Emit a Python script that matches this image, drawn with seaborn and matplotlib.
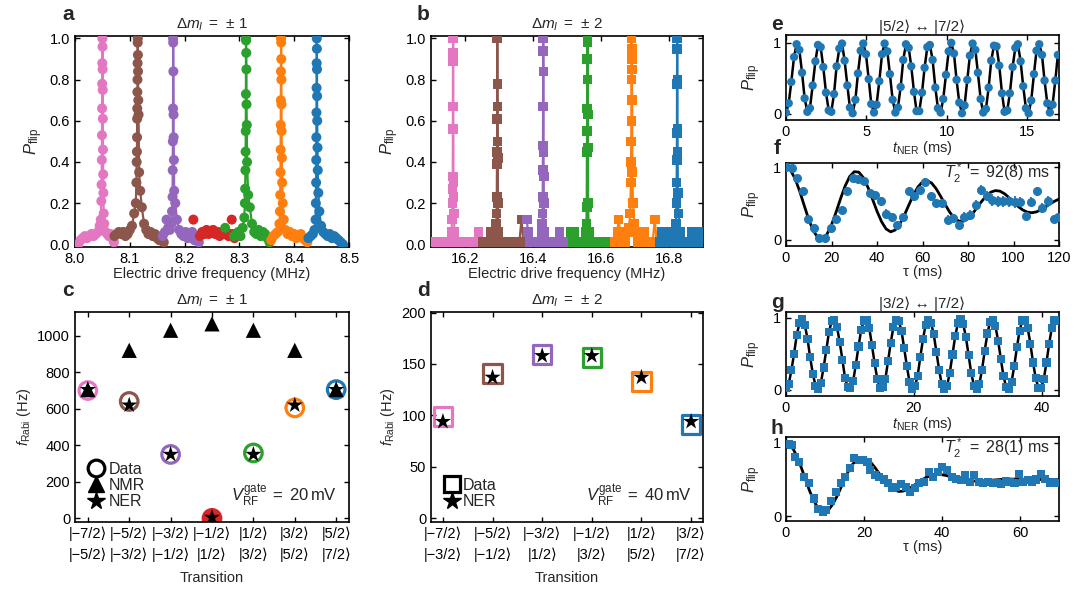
import numpy as np
import pandas as pd
import seaborn as sns
import matplotlib.pyplot as plt
from matplotlib.lines import Line2D

sns.set_style("ticks")
plt.rcParams['font.family'] = ['Liberation Sans', 'DejaVu Sans']
plt.rcParams['mathtext.fontset'] = 'custom'
plt.rcParams['mathtext.rm'] = 'Liberation Sans'
plt.rcParams['mathtext.it'] = 'Liberation Sans:italic'
plt.rcParams['mathtext.bf'] = 'Liberation Sans:bold'
plt.rcParams.update({
    'xtick.direction': 'in', 'ytick.direction': 'in',
    'xtick.top': True, 'ytick.right': True,
    'xtick.major.size': 3.5, 'ytick.major.size': 3.5,
    'xtick.major.width': 1.0, 'ytick.major.width': 1.0,
    'xtick.color': 'k', 'ytick.color': 'k',
    'axes.edgecolor': 'k', 'axes.linewidth': 1.2,
    'font.size': 10.5, 'xtick.labelsize': 10.5, 'ytick.labelsize': 10.5,
    'axes.labelsize': 10.5, 'axes.titlesize': 11,
})

PINK, BROWN, PURPLE, RED = '#e377c2', '#8c564b', '#9467bd', '#d62728'
GREEN, ORANGE, BLUE = '#2ca02c', '#ff7f0e', '#1f77b4'

# ---------------- panel a : Delta m = +-1 spectra ----------------
a_pink_f = [8.006, 8.010, 8.014, 8.018, 8.022, 8.026, 8.030, 8.034, 8.038, 8.042,
            8.045, 8.047, 8.048, 8.0485, 8.049, 8.0492, 8.0494, 8.0496, 8.0498, 8.0500,
            8.0502, 8.0504, 8.0506, 8.0508, 8.0510, 8.0514, 8.0518, 8.0524, 8.0535, 8.056,
            8.059, 8.062, 8.065, 8.068, 8.071]
a_pink_p = [0.00, 0.02, 0.03, 0.04, 0.03, 0.04, 0.05, 0.04, 0.05, 0.06,
            0.09, 0.12, 0.21, 0.29, 0.41, 0.53, 0.66, 0.78, 0.88, 1.00,
            0.96, 0.85, 0.75, 0.61, 0.46, 0.34, 0.25, 0.15, 0.10, 0.06,
            0.05, 0.04, 0.05, 0.03, 0.01]
a_brown_f = [8.072, 8.076, 8.080, 8.084, 8.088, 8.092, 8.096, 8.100, 8.104, 8.108,
             8.111, 8.112, 8.1125, 8.113, 8.1132, 8.1134, 8.1136, 8.1138, 8.114, 8.1142,
             8.1144, 8.1146, 8.1148, 8.115, 8.1155, 8.116, 8.117, 8.119, 8.122, 8.126,
             8.130, 8.134, 8.138, 8.142, 8.146, 8.150, 8.154, 8.158, 8.162]
a_brown_p = [0.04, 0.05, 0.06, 0.05, 0.06, 0.04, 0.05, 0.07, 0.09, 0.15,
             0.20, 0.30, 0.40, 0.45, 0.52, 0.61, 0.66, 0.74, 0.80, 0.88,
             0.98, 1.00, 0.92, 0.84, 0.70, 0.63, 0.35, 0.26, 0.18, 0.10,
             0.07, 0.05, 0.06, 0.04, 0.05, 0.03, 0.02, 0.04, 0.01]
a_purple_f = [8.160, 8.164, 8.167, 8.170, 8.173, 8.176, 8.177, 8.178, 8.1783, 8.1786,
              8.1789, 8.179, 8.1792, 8.1795, 8.1798, 8.180, 8.1805, 8.181, 8.183, 8.186,
              8.190, 8.194, 8.198, 8.202, 8.206, 8.210, 8.214, 8.218, 8.222, 8.226]
a_purple_p = [0.04, 0.06, 0.12, 0.08, 0.07, 0.10, 0.16, 0.23, 0.36, 0.50,
              0.66, 1.00, 0.98, 0.84, 0.63, 0.52, 0.41, 0.26, 0.20, 0.12,
              0.07, 0.05, 0.04, 0.06, 0.03, 0.05, 0.06, 0.02, 0.04, 0.01]
a_red_f = [8.216, 8.228, 8.232, 8.236, 8.240, 8.244, 8.248, 8.252, 8.256, 8.260,
           8.264, 8.268, 8.272, 8.276, 8.280, 8.284, 8.286, 8.288, 8.291]
a_red_p = [0.12, 0.04, 0.06, 0.05, 0.07, 0.05, 0.06, 0.07, 0.05, 0.06,
           0.04, 0.06, 0.05, 0.06, 0.04, 0.05, 0.12, 0.05, 0.03]
a_red_fit_f = [8.228, 8.291]
a_red_fit_p = [0.055, 0.055]
a_green_f = [8.274, 8.290, 8.294, 8.298, 8.302, 8.306, 8.309, 8.310, 8.3105, 8.311,
             8.3113, 8.3116, 8.3119, 8.312, 8.3122, 8.3125, 8.3128, 8.313, 8.3135, 8.314,
             8.316, 8.319, 8.323, 8.327, 8.331, 8.335, 8.339, 8.343, 8.347, 8.351,
             8.355]
a_green_p = [0.08, 0.04, 0.05, 0.06, 0.04, 0.08, 0.13, 0.20, 0.27, 0.36,
             0.45, 0.55, 0.73, 1.00, 0.99, 0.93, 0.85, 0.68, 0.58, 0.40,
             0.24, 0.18, 0.10, 0.06, 0.05, 0.07, 0.04, 0.06, 0.05, 0.03,
             0.01]
a_orange_f = [8.358, 8.362, 8.366, 8.370, 8.373, 8.374, 8.3745, 8.375, 8.3752, 8.3754,
              8.3756, 8.3758, 8.376, 8.3762, 8.3764, 8.3766, 8.3768, 8.377, 8.3775, 8.378,
              8.379, 8.381, 8.384, 8.388, 8.392, 8.396, 8.400, 8.404, 8.408, 8.412,
              8.416, 8.420, 8.424]
a_orange_p = [0.02, 0.04, 0.05, 0.06, 0.10, 0.16, 0.24, 0.35, 0.46, 0.58,
              0.70, 0.84, 1.00, 0.98, 0.90, 0.80, 0.68, 0.55, 0.42, 0.30,
              0.20, 0.12, 0.07, 0.05, 0.06, 0.04, 0.05, 0.03, 0.04, 0.05,
              0.03, 0.02, 0.01]
a_blue_f = [8.426, 8.430, 8.434, 8.437, 8.439, 8.4395, 8.440, 8.4402, 8.4404, 8.4406,
            8.4408, 8.441, 8.4412, 8.4414, 8.4416, 8.4418, 8.442, 8.4425, 8.443, 8.444,
            8.446, 8.449, 8.453, 8.457, 8.461, 8.465, 8.469, 8.473, 8.477, 8.481,
            8.485, 8.489]
a_blue_p = [0.03, 0.04, 0.05, 0.07, 0.12, 0.20, 0.30, 0.41, 0.52, 0.64,
            0.76, 0.88, 1.00, 0.95, 0.85, 0.72, 0.60, 0.47, 0.36, 0.25,
            0.16, 0.09, 0.06, 0.05, 0.04, 0.05, 0.03, 0.04, 0.03, 0.02,
            0.01, 0.00]

# ---------------- panel b : Delta m = +-2 spectra ----------------
b_pink_f = [16.104, 16.112, 16.120, 16.128, 16.136, 16.144, 16.150, 16.156, 16.160, 16.162,
            16.163, 16.1635, 16.164, 16.1643, 16.1646, 16.165, 16.1653, 16.1656, 16.166, 16.1665,
            16.167, 16.169, 16.172, 16.178, 16.186, 16.194, 16.202, 16.210, 16.218, 16.226,
            16.234, 16.240, 16.247]
b_pink_p = [0.01, 0.01, 0.01, 0.01, 0.01, 0.01, 0.01, 0.01, 0.06, 0.12,
            0.20, 0.27, 0.33, 0.56, 0.89, 1.00, 0.93, 0.67, 0.30, 0.23,
            0.15, 0.06, 0.01, 0.01, 0.01, 0.01, 0.01, 0.01, 0.01, 0.01,
            0.01, 0.06, 0.01]
b_brown_f = [16.252, 16.260, 16.268, 16.275, 16.282, 16.288, 16.292, 16.293, 16.2935, 16.294,
             16.2943, 16.2946, 16.295, 16.2953, 16.2956, 16.296, 16.2965, 16.297, 16.299, 16.304,
             16.312, 16.320, 16.328, 16.336, 16.344, 16.352, 16.360, 16.366, 16.372, 16.378]
b_brown_p = [0.01, 0.01, 0.01, 0.06, 0.01, 0.06, 0.10, 0.15, 0.23, 0.39,
             0.45, 0.61, 1.00, 0.78, 0.67, 0.50, 0.42, 0.20, 0.06, 0.01,
             0.01, 0.01, 0.01, 0.01, 0.01, 0.01, 0.01, 0.12, 0.01, 0.01]
b_purple_f = [16.382, 16.385, 16.390, 16.398, 16.406, 16.414, 16.420, 16.425, 16.427, 16.428,
              16.4285, 16.429, 16.4293, 16.4296, 16.430, 16.4303, 16.4306, 16.431, 16.4315, 16.432,
              16.434, 16.440, 16.448, 16.456, 16.464, 16.472, 16.478, 16.486, 16.494, 16.502,
              16.509]
b_purple_p = [0.12, 0.06, 0.01, 0.01, 0.01, 0.01, 0.01, 0.06, 0.10, 0.15,
              0.23, 0.36, 0.48, 0.67, 1.00, 0.94, 0.84, 0.45, 0.33, 0.20,
              0.06, 0.01, 0.01, 0.01, 0.01, 0.01, 0.06, 0.01, 0.01, 0.01,
              0.01]
b_green_f = [16.512, 16.516, 16.520, 16.528, 16.536, 16.544, 16.550, 16.555, 16.557, 16.558,
             16.5585, 16.559, 16.5593, 16.5596, 16.560, 16.5603, 16.5606, 16.561, 16.5615, 16.562,
             16.564, 16.570, 16.578, 16.586, 16.594, 16.602, 16.610, 16.618, 16.626, 16.634,
             16.640]
b_green_p = [0.06, 0.01, 0.06, 0.01, 0.01, 0.01, 0.01, 0.06, 0.10, 0.18,
             0.45, 0.55, 0.66, 0.90, 1.00, 0.98, 0.80, 0.63, 0.47, 0.20,
             0.06, 0.01, 0.01, 0.01, 0.01, 0.01, 0.01, 0.01, 0.01, 0.01,
             0.01]
b_orange_f = [16.642, 16.648, 16.652, 16.658, 16.664, 16.670, 16.676, 16.682, 16.686, 16.688,
              16.6885, 16.689, 16.6893, 16.6896, 16.690, 16.6903, 16.6906, 16.691, 16.6915, 16.692,
              16.694, 16.698, 16.702, 16.708, 16.714, 16.720, 16.728, 16.736, 16.744, 16.752,
              16.758, 16.764, 16.770]
b_orange_p = [0.01, 0.06, 0.12, 0.04, 0.06, 0.01, 0.06, 0.08, 0.15, 0.30,
              0.40, 0.50, 0.60, 0.80, 1.00, 0.95, 0.90, 0.85, 0.70, 0.35,
              0.20, 0.10, 0.06, 0.01, 0.06, 0.01, 0.06, 0.01, 0.01, 0.01,
              0.12, 0.01, 0.01]
b_blue_f = [16.774, 16.780, 16.786, 16.792, 16.798, 16.804, 16.810, 16.816, 16.820, 16.822,
            16.8225, 16.823, 16.8233, 16.8236, 16.824, 16.8243, 16.8246, 16.825, 16.8255, 16.826,
            16.828, 16.832, 16.838, 16.846, 16.854, 16.862, 16.868, 16.874, 16.880, 16.886,
            16.893]
b_blue_p = [0.01, 0.06, 0.04, 0.01, 0.04, 0.06, 0.01, 0.06, 0.10, 0.20,
            0.30, 0.41, 0.54, 0.78, 1.00, 0.95, 0.80, 0.56, 0.45, 0.25,
            0.15, 0.06, 0.01, 0.01, 0.01, 0.01, 0.06, 0.01, 0.04, 0.06,
            0.01]

# ---------------- panels c, d : Rabi frequencies ----------------
c_labels = ['|−7/2⟩\n|−5/2⟩', '|−5/2⟩\n|−3/2⟩', '|−3/2⟩\n|−1/2⟩', '|−1/2⟩\n|1/2⟩',
            '|1/2⟩\n|3/2⟩', '|3/2⟩\n|5/2⟩', '|5/2⟩\n|7/2⟩']
c_data = [700, 640, 350, 0, 358, 605, 705]
c_nmr = [705, 920, 1030, 1065, 1030, 920, 705]
c_ner = [705, 620, 350, 5, 350, 620, 705]
c_colors = [PINK, BROWN, PURPLE, RED, GREEN, ORANGE, BLUE]

d_labels = ['|−7/2⟩\n|−3/2⟩', '|−5/2⟩\n|−1/2⟩', '|−3/2⟩\n|1/2⟩', '|−1/2⟩\n|3/2⟩',
            '|1/2⟩\n|5/2⟩', '|3/2⟩\n|7/2⟩']
d_data = [99, 141, 159, 156, 133, 91]
d_ner = [94, 137, 158, 158, 137, 94]
d_colors = [PINK, BROWN, PURPLE, GREEN, ORANGE, BLUE]

# ---------------- panel e : Rabi |5/2> <-> |7/2> ----------------
e_t = [0.00, 0.17, 0.33, 0.50, 0.66, 0.83, 1.00, 1.16, 1.33, 1.49, 1.66, 1.83, 1.99, 2.16, 2.32,
       2.49, 2.66, 2.82, 2.99, 3.15, 3.32, 3.49, 3.65, 3.82, 3.98, 4.15, 4.32, 4.48, 4.65, 4.81,
       4.98, 5.15, 5.31, 5.48, 5.64, 5.81, 5.98, 6.14, 6.31, 6.47, 6.64, 6.81, 6.97, 7.14, 7.30,
       7.47, 7.64, 7.80, 7.97, 8.13, 8.30, 8.47, 8.63, 8.80, 8.96, 9.13, 9.30, 9.46, 9.63, 9.79,
       9.96, 10.13, 10.29, 10.46, 10.62, 10.79, 10.96, 11.12, 11.29, 11.45, 11.62, 11.79, 11.95,
       12.12, 12.28, 12.45, 12.62, 12.78, 12.95, 13.11, 13.28, 13.45, 13.61, 13.78, 13.94, 14.11,
       14.28, 14.44, 14.61, 14.77, 14.94, 15.11, 15.27, 15.44, 15.60, 15.77, 15.94, 16.10, 16.27,
       16.43, 16.60, 16.77, 16.93]
e_p = [0.02, 0.15, 0.45, 0.80, 0.98, 0.90, 0.58, 0.22, 0.03, 0.08, 0.40, 0.74, 0.97, 0.94, 0.66,
       0.30, 0.05, 0.03, 0.28, 0.67, 0.92, 0.99, 0.75, 0.40, 0.09, 0.01, 0.20, 0.57, 0.89, 0.99,
       0.84, 0.49, 0.14,
       0.02, 0.13, 0.46, 0.84, 0.99, 0.88, 0.56, 0.20, 0.02, 0.09, 0.38, 0.76, 0.98, 0.93, 0.67,
       0.31, 0.04, 0.04, 0.30, 0.65, 0.94, 0.97, 0.76, 0.37, 0.08, 0.02, 0.21, 0.55, 0.88, 1.00,
       0.85, 0.48, 0.16,
       0.01, 0.12, 0.48, 0.82, 0.99, 0.90, 0.58, 0.21, 0.02, 0.07, 0.37, 0.75, 0.96, 0.95, 0.68,
       0.29, 0.03, 0.05, 0.29, 0.66, 0.93, 0.98, 0.74, 0.39, 0.08, 0.01, 0.19, 0.56, 0.89, 0.98,
       0.83, 0.47, 0.15,
       0.02, 0.13, 0.47, 0.83]

# ---------------- panel f : Ramsey |5/2> <-> |7/2> ----------------
f_t = [0.0, 2.45, 4.9, 7.35, 9.8, 12.25, 14.7, 17.15, 19.6, 22.05,
       24.5, 26.95, 29.4, 31.85, 34.3, 36.75, 39.2, 41.65, 44.1, 46.55,
       49.0, 51.45, 53.9, 56.35, 58.8, 61.25, 63.7, 66.15, 68.6, 71.05,
       73.5, 75.95, 78.4, 80.85, 83.3, 85.75, 88.2, 90.65, 93.1, 95.55,
       98.0, 100.45, 102.9, 105.35, 107.8, 110.25, 112.7, 115.15, 117.6, 119.6]
f_p = [1.00, 0.99, 0.85, 0.67, 0.29, 0.17, 0.03, 0.03, 0.17, 0.29,
       0.41, 0.67, 0.85, 0.84, 0.81, 0.64, 0.62, 0.53, 0.36, 0.32,
       0.21, 0.31, 0.67, 0.60, 0.69, 0.80, 0.60, 0.51, 0.51, 0.28,
       0.30, 0.21, 0.32, 0.34, 0.48, 0.69, 0.60, 0.55, 0.53, 0.53,
       0.53, 0.52, 0.52, 0.33, 0.52, 0.67, 0.44, 0.53, 0.29, 0.31]
f_err = [0.02, 0.02, 0.03, 0.04, 0.04, 0.03, 0.03, 0.03, 0.04, 0.04,
         0.04, 0.05, 0.04, 0.04, 0.05, 0.05, 0.06, 0.06, 0.06, 0.05,
         0.04, 0.05, 0.06, 0.06, 0.06, 0.05, 0.06, 0.06, 0.06, 0.06,
         0.06, 0.05, 0.06, 0.07, 0.07, 0.07, 0.07, 0.08, 0.08, 0.08,
         0.08, 0.08, 0.07, 0.06, 0.07, 0.06, 0.07, 0.07, 0.06, 0.06]
f_fit_t = [0, 2, 4, 6, 8, 10, 12, 14, 16, 18, 20, 22, 24, 26, 28, 30, 32, 34, 36, 38,
           40, 42, 44, 46, 48, 50, 52, 54, 56, 58, 60, 62, 64, 66, 68, 70, 72, 74, 76, 78,
           80, 82, 84, 86, 88, 90, 92, 94, 96, 98, 100, 102, 104, 106, 108, 110, 112, 114,
           116, 118, 120]
f_fit = [1.000, 0.960, 0.844, 0.673, 0.475, 0.283, 0.127, 0.034, 0.017, 0.079,
         0.208, 0.382, 0.571, 0.744, 0.874, 0.940, 0.934, 0.858, 0.727, 0.564,
         0.396, 0.252, 0.152, 0.112, 0.137, 0.218, 0.340, 0.482, 0.620, 0.731,
         0.800, 0.818, 0.784, 0.706, 0.600, 0.486, 0.381, 0.301, 0.259, 0.258,
         0.295, 0.362, 0.446, 0.531, 0.606, 0.658, 0.680, 0.673, 0.638, 0.585,
         0.523, 0.463, 0.415, 0.384, 0.375, 0.386, 0.414, 0.453, 0.495, 0.533,
         0.563]

# ---------------- panel g : Rabi |3/2> <-> |7/2> ----------------
g_t = [0.00, 0.42, 0.84, 1.26, 1.68, 2.10, 2.52, 2.94, 3.36, 3.78, 4.20, 4.62, 5.04, 5.46,
       5.88, 6.30, 6.72, 7.14, 7.56, 7.98, 8.40, 8.82, 9.24, 9.66, 10.08, 10.50, 10.92, 11.34,
       11.76, 12.18, 12.60, 13.02, 13.44, 13.86, 14.28, 14.70, 15.12, 15.54, 15.96, 16.38,
       16.80, 17.22, 17.64, 18.06, 18.48, 18.90, 19.32, 19.74, 20.16, 20.58, 21.00, 21.42,
       21.84, 22.26, 22.68, 23.10, 23.52, 23.94, 24.36, 24.78, 25.20, 25.62, 26.04, 26.46,
       26.88, 27.30, 27.72, 28.14, 28.56, 28.98, 29.40, 29.82, 30.24, 30.66, 31.08, 31.50,
       31.92, 32.34, 32.76, 33.18, 33.60, 34.02, 34.44, 34.86, 35.28, 35.70, 36.12, 36.54,
       36.96, 37.38, 37.80, 38.22, 38.64, 39.06, 39.48, 39.90, 40.32, 40.74, 41.16, 41.58,
       42.00, 42.42]
g_p = [0.03, 0.08, 0.27, 0.50, 0.76, 0.92, 0.98, 0.90, 0.71, 0.45, 0.22, 0.06,
       0.02, 0.10, 0.31, 0.55, 0.80, 0.95, 0.97, 0.87, 0.66, 0.42, 0.16, 0.04,
       0.03, 0.12, 0.35, 0.60, 0.83, 0.96, 0.97, 0.86, 0.62, 0.37, 0.15, 0.03,
       0.04, 0.15, 0.40, 0.65, 0.87, 0.97, 0.95, 0.82, 0.58, 0.33, 0.11, 0.02,
       0.05, 0.19, 0.45, 0.70, 0.90, 0.97, 0.93, 0.77, 0.53, 0.28, 0.08, 0.02,
       0.06, 0.24, 0.49, 0.74, 0.92, 0.98, 0.91, 0.73, 0.48, 0.23, 0.06, 0.02,
       0.08, 0.28, 0.54, 0.78, 0.94, 0.97, 0.88, 0.68, 0.43, 0.19, 0.04, 0.02,
       0.11, 0.33, 0.59, 0.82, 0.96, 0.97, 0.86, 0.64, 0.38, 0.16, 0.03, 0.03,
       0.15, 0.38, 0.64, 0.86, 0.97, 0.96]

# ---------------- panel h : Ramsey |3/2> <-> |7/2> ----------------
h_t = [0.7, 1.4, 2.4, 3.4, 4.5, 5.8, 7.1, 8.3, 9.4, 10.3,
       11.6, 12.9, 14.0, 15.1, 16.4, 17.5, 18.7, 19.8, 20.9, 21.5,
       22.8, 23.9, 25.1, 26.2, 27.3, 28.3, 29.6, 30.7, 31.7, 33.0,
       34.1, 35.3, 36.7, 37.7, 39.0, 40.1, 41.3, 42.6, 43.7, 45.0,
       46.0, 47.2, 48.3, 49.4, 50.6, 51.7, 53.0, 54.0, 55.1, 56.3,
       57.3, 58.6, 59.7, 60.7, 62.0, 63.1, 64.1, 65.4, 66.5, 67.7,
       68.8, 69.6]
h_p = [0.99, 0.97, 0.81, 0.74, 0.53, 0.45, 0.24, 0.10, 0.06, 0.08,
       0.20, 0.33, 0.45, 0.54, 0.66, 0.79, 0.77, 0.77, 0.74, 0.63,
       0.56, 0.54, 0.50, 0.45, 0.38, 0.40, 0.44, 0.40, 0.33, 0.38,
       0.45, 0.47, 0.60, 0.54, 0.60, 0.67, 0.63, 0.54, 0.51, 0.49,
       0.56, 0.47, 0.56, 0.47, 0.45, 0.47, 0.45, 0.45, 0.44, 0.48,
       0.47, 0.45, 0.58, 0.47, 0.49, 0.47, 0.50, 0.58, 0.51, 0.45,
       0.47, 0.45]
h_fit_t = [0, 1, 2, 3, 4, 5, 6, 7, 8, 9, 10, 11, 12, 13, 14, 15, 16, 17, 18, 19, 20,
           21, 22, 23, 24, 25, 26, 27, 28, 29, 30, 31, 32, 33, 34, 35, 36, 37, 38, 39, 40,
           41, 42, 43, 44, 45, 46, 47, 48, 49, 50, 51, 52, 53, 54, 55, 56, 57, 58, 59, 60,
           61, 62, 63, 64, 65, 66, 67, 68, 69, 70]
h_fit = [1.000, 0.975, 0.902, 0.791, 0.651, 0.500, 0.352, 0.224, 0.127, 0.071,
         0.060, 0.092, 0.163, 0.263, 0.380, 0.500, 0.611, 0.703, 0.768, 0.800,
         0.800, 0.771, 0.718, 0.650, 0.574, 0.500, 0.435, 0.384, 0.351, 0.337,
         0.341, 0.360, 0.390, 0.427, 0.465, 0.500, 0.530, 0.551, 0.564, 0.568,
         0.565, 0.556, 0.543, 0.528, 0.513, 0.500, 0.490, 0.482, 0.479, 0.478,
         0.479, 0.483, 0.487, 0.492, 0.496, 0.500, 0.503, 0.505, 0.506, 0.506,
         0.505, 0.504, 0.503, 0.502, 0.501, 0.500, 0.500, 0.499, 0.499, 0.499,
         0.499]

W, H = 1081, 600
fig = plt.figure(figsize=(W / 100, H / 100), dpi=100)


def box(l, t, r, b):
    return [l / W, 1 - b / H, (r - l) / W, (b - t) / H]


ax_a = fig.add_axes(box(75, 36, 349, 247))
ax_b = fig.add_axes(box(431, 36, 703, 247))
ax_c = fig.add_axes(box(75, 312, 349, 522))
ax_d = fig.add_axes(box(431, 312, 703, 522))
ax_e = fig.add_axes(box(786, 35, 1059, 120))
ax_f = fig.add_axes(box(786, 163, 1059, 246))
ax_g = fig.add_axes(box(786, 312, 1059, 396))
ax_h = fig.add_axes(box(786, 437, 1059, 521))

TITLE1 = r'$\Delta m_I\;=\;\pm\,1$'
TITLE2 = r'$\Delta m_I\;=\;\pm\,2$'


def spectrum(ax, f, p, col, marker, size):
    sns.lineplot(x=f, y=p, ax=ax, color=col, lw=1.6, estimator=None, sort=True)
    sns.scatterplot(x=f, y=p, ax=ax, color=col, s=size, marker=marker,
                    edgecolor='none', zorder=3)


# panel a
for f, p, col in [(a_pink_f, a_pink_p, PINK), (a_brown_f, a_brown_p, BROWN),
                  (a_purple_f, a_purple_p, PURPLE)]:
    spectrum(ax_a, f, p, col, 'o', 52)
sns.lineplot(x=a_red_fit_f, y=a_red_fit_p, ax=ax_a, color=RED, lw=1.6)
sns.scatterplot(x=a_red_f, y=a_red_p, ax=ax_a, color=RED, s=52, edgecolor='none', zorder=3)
for f, p, col in [(a_green_f, a_green_p, GREEN), (a_orange_f, a_orange_p, ORANGE),
                  (a_blue_f, a_blue_p, BLUE)]:
    spectrum(ax_a, f, p, col, 'o', 52)
ax_a.set_xlim(8.0, 8.5)
ax_a.set_ylim(-0.013, 1.012)
ax_a.set_xticks([8.0, 8.1, 8.2, 8.3, 8.4, 8.5])
ax_a.set_yticks([0.0, 0.2, 0.4, 0.6, 0.8, 1.0])
ax_a.set_xlabel('Electric drive frequency (MHz)', labelpad=1)
ax_a.set_ylabel(r'$P_{\rm flip}$', labelpad=3, fontsize=12)
ax_a.set_title(TITLE1, pad=5)

# panel b
for f, p, col in [(b_pink_f, b_pink_p, PINK), (b_brown_f, b_brown_p, BROWN),
                  (b_purple_f, b_purple_p, PURPLE), (b_green_f, b_green_p, GREEN),
                  (b_orange_f, b_orange_p, ORANGE), (b_blue_f, b_blue_p, BLUE)]:
    spectrum(ax_b, f, p, col, 's', 48)
ax_b.set_xlim(16.1, 16.9)
ax_b.set_ylim(-0.013, 1.012)
ax_b.set_xticks([16.2, 16.4, 16.6, 16.8])
ax_b.set_yticks([0.0, 0.2, 0.4, 0.6, 0.8, 1.0])
ax_b.set_xlabel('Electric drive frequency (MHz)', labelpad=1)
ax_b.set_ylabel(r'$P_{\rm flip}$', labelpad=3, fontsize=12)
ax_b.set_title(TITLE2, pad=5)

# panel c
xc = np.arange(len(c_labels))
fc = ['none'] * len(c_colors)
fc[3] = RED
ax_c.scatter(xc, c_data, s=160, facecolors=fc, edgecolors=c_colors, linewidths=2.3, zorder=2)
sns.scatterplot(x=xc, y=c_nmr, ax=ax_c, color='k', marker='^', s=120, edgecolor='none', zorder=3)
sns.scatterplot(x=xc, y=c_ner, ax=ax_c, color='k', marker='*', s=150, edgecolor='none', zorder=4)
ax_c.set_xlim(-0.31, 6.31)
ax_c.set_ylim(-20, 1130)
ax_c.set_xticks(xc)
ax_c.set_xticklabels(c_labels, linespacing=1.6)
ax_c.set_yticks([0, 200, 400, 600, 800, 1000])
ax_c.set_xlabel('Transition', labelpad=6)
ax_c.set_ylabel(r'$f_{\rm Rabi}$ (Hz)', labelpad=3)
ax_c.set_title(TITLE1, pad=5)
hc = [Line2D([], [], ls='none', marker='o', ms=12, mfc='none', mec='k', mew=2.3),
      Line2D([], [], ls='none', marker='^', ms=12, color='k'),
      Line2D([], [], ls='none', marker='*', ms=13, color='k')]
ax_c.legend(hc, ['Data', 'NMR', 'NER'], loc='lower left', frameon=False, fontsize=11.5,
            handlelength=1.0, handletextpad=0.3, labelspacing=0.08, borderaxespad=0.6,
            borderpad=0.2)
ax_c.text(0.955, 0.13, r'$V_{\rm RF}^{\rm gate}\;=\;20\,$mV', transform=ax_c.transAxes,
          ha='right', va='center', fontsize=12)

# panel d
xd = np.arange(len(d_labels))
ax_d.scatter(xd, d_data, s=180, marker='s', facecolors='none', edgecolors=d_colors,
             linewidths=2.3, zorder=2)
sns.scatterplot(x=xd, y=d_ner, ax=ax_d, color='k', marker='*', s=150, edgecolor='none', zorder=4)
ax_d.set_xlim(-0.24, 5.24)
ax_d.set_ylim(-3.6, 200.5)
ax_d.set_xticks(xd)
ax_d.set_xticklabels(d_labels, linespacing=1.6)
ax_d.set_yticks([0, 50, 100, 150, 200])
ax_d.set_xlabel('Transition', labelpad=6)
ax_d.set_ylabel(r'$f_{\rm Rabi}$ (Hz)', labelpad=3)
ax_d.set_title(TITLE2, pad=5)
hd = [Line2D([], [], ls='none', marker='s', ms=12, mfc='none', mec='k', mew=2.3),
      Line2D([], [], ls='none', marker='*', ms=13, color='k')]
ax_d.legend(hd, ['Data', 'NER'], loc='lower left', frameon=False, fontsize=11.5,
            handlelength=1.0, handletextpad=0.2, labelspacing=0.08, borderaxespad=0.6,
            borderpad=0.2)
ax_d.text(0.96, 0.13, r'$V_{\rm RF}^{\rm gate}\;=\;40\,$mV', transform=ax_d.transAxes,
          ha='right', va='center', fontsize=12)

# panel e
sns.lineplot(x=e_t, y=e_p, ax=ax_e, color='k', lw=1.8, estimator=None)
sns.scatterplot(x=e_t, y=e_p, ax=ax_e, color=BLUE, s=36, edgecolor='none', zorder=3)
ax_e.set_xlim(0, 17)
ax_e.set_ylim(-0.085, 1.11)
ax_e.set_xticks([0, 5, 10, 15])
ax_e.set_yticks([0, 1])
ax_e.set_xlabel(r'$t_{\rm NER}$ (ms)', labelpad=0)
ax_e.set_ylabel(r'$P_{\rm flip}$', labelpad=7, fontsize=12)
ax_e.set_title('|5/2⟩ ↔ |7/2⟩', pad=3, fontsize=11)

# panel f
sns.lineplot(x=f_fit_t, y=f_fit, ax=ax_f, color='k', lw=2.0)
ax_f.errorbar(f_t, f_p, yerr=f_err, fmt='o', ms=5.5, color=BLUE, elinewidth=1.3,
              capsize=0, zorder=3)
ax_f.set_xlim(0, 120)
ax_f.set_ylim(-0.083, 1.06)
ax_f.set_xticks([0, 20, 40, 60, 80, 100, 120])
ax_f.set_yticks([0, 1])
ax_f.set_xlabel('τ (ms)', labelpad=0)
ax_f.set_ylabel(r'$P_{\rm flip}$', labelpad=7, fontsize=12)
ax_f.text(0.967, 0.88, r'$T_2^*\;=\;92(8)$ ms', transform=ax_f.transAxes,
          ha='right', va='center', fontsize=11.5)

# panel g
sns.lineplot(x=g_t, y=g_p, ax=ax_g, color='k', lw=1.8, estimator=None)
sns.scatterplot(x=g_t, y=g_p, ax=ax_g, color=BLUE, marker='s', s=34, edgecolor='none', zorder=3)
ax_g.set_xlim(0, 42.7)
ax_g.set_ylim(-0.083, 1.077)
ax_g.set_xticks([0, 20, 40])
ax_g.set_yticks([0, 1])
ax_g.set_xlabel(r'$t_{\rm NER}$ (ms)', labelpad=0)
ax_g.set_ylabel(r'$P_{\rm flip}$', labelpad=7, fontsize=12)
ax_g.set_title('|3/2⟩ ↔ |7/2⟩', pad=3, fontsize=11)

# panel h
sns.lineplot(x=h_fit_t, y=h_fit, ax=ax_h, color='k', lw=2.0)
sns.scatterplot(x=h_t, y=h_p, ax=ax_h, color=BLUE, marker='s', s=34, edgecolor='none', zorder=3)
ax_h.set_xlim(0, 70)
ax_h.set_ylim(-0.068, 1.082)
ax_h.set_xticks([0, 20, 40, 60])
ax_h.set_yticks([0, 1])
ax_h.set_xlabel('τ (ms)', labelpad=0)
ax_h.set_ylabel(r'$P_{\rm flip}$', labelpad=7, fontsize=12)
ax_h.text(0.967, 0.87, r'$T_2^*\;=\;28(1)$ ms', transform=ax_h.transAxes,
          ha='right', va='center', fontsize=11.5)

for lab, x, y in [('a', 68, 15), ('b', 423, 15), ('c', 68, 291), ('d', 423, 291),
                  ('e', 777, 25), ('f', 777, 149), ('g', 777, 302), ('h', 777, 428)]:
    fig.text(x / W, 1 - y / H, lab, fontsize=15, fontweight='bold', ha='center', va='center')

fig.savefig('out.png', dpi=100)
